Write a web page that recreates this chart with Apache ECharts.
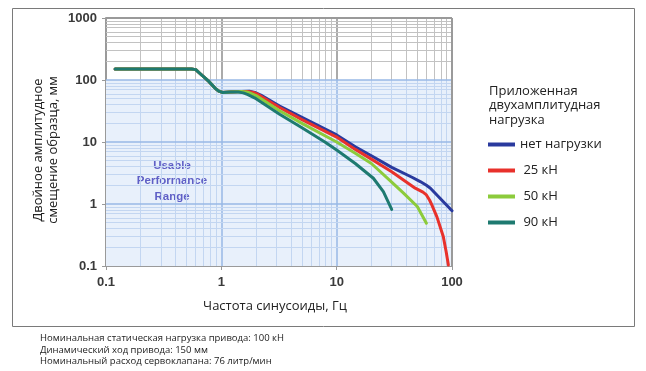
<!DOCTYPE html>
<html>
<head>
<meta charset="utf-8">
<script src="https://cdn.jsdelivr.net/npm/echarts@6/dist/echarts.min.js"></script>
<style>html,body{margin:0;padding:0;background:#fff}#c{width:646px;height:371px}</style>
</head>
<body>
<div id="c"></div>
<script>
// ---- data (frequency Hz, double amplitude mm) ----
const seriesNames = ['нет нагрузки', ' 25 кН', ' 50 кН', ' 90 кН'];
const commonStart = [[0.12,150],[0.55,150],[0.6,147],[0.66,125],[0.78,95],[0.88,74],[0.95,66],[1.02,63],[1.2,64]];
const noLoad = [[1.5,65],[1.75,66],[1.95,63],[2.2,57],[3.2,38],[5,25],[10,13],[14.5,8.4],[20,6.0],[30,3.9],[45,2.7],[53,2.3],[60,2.0],[65,1.8],[100,0.78]];
const load25 = [[1.5,65],[1.7,65],[1.9,63],[2.1,58],[3.2,36],[5,23],[10,12],[14.5,7.6],[20,5.3],[30,3.3],[48,1.8],[56,1.55],[60,1.4],[64,1.15],[67,0.96],[74,0.62],[84,0.30],[89,0.17],[93,0.104]];
const load50 = [[1.5,65],[1.65,64],[1.8,61],[2,56],[3.2,32],[5,20],[10,10],[14.5,6.6],[20,4.5],[30,2.25],[38,1.5],[50,0.91],[60,0.49]];
const load90 = [[1.4,64],[1.55,62],[1.7,58],[2,50],[3.2,28],[5,17],[7.9,10],[10,7.4],[14.5,4.5],[20.8,2.6],[25.4,1.58],[30,0.82]];
const colors = ['#2a3a9e', '#e8312b', '#8ccb3c', '#1e7a70'];
const footnotes = ['Номинальная статическая нагрузка привода: 100 кН','Динамический ход привода: 150 мм','Номинальный расход сервоклапана: 76 литр/мин'];

// ---- grid line positions (decade subdivisions) ----
function subdiv(decStarts){const out=[];decStarts.forEach(d=>{for(let k=2;k<=9;k++)out.push(+(d*k).toPrecision(3));});return out;}
const xMinor = subdiv([0.1,1,10]);
const yMinorLow = subdiv([0.1,1,10]);
const yMinorHigh = subdiv([100]);

const grayMinor='#c2c2c2', grayMajor='#8e8e8e', blueMinor='#c3d6f1', blueMajor='#99b8e6';
const gl=[];
function seg(x1,y1,x2,y2,color,w){gl.push([{coord:[x1,y1],lineStyle:{color:color,width:w,type:'solid'}},{coord:[x2,y2]}]);}
xMinor.forEach(x=>{seg(x,0.1,x,100,blueMinor,1);seg(x,100,x,1000,grayMinor,1);});
[1,10].forEach(x=>{seg(x,0.1,x,100,blueMajor,1.5);seg(x,100,x,1000,grayMajor,1.5);});
yMinorLow.forEach(y=>seg(0.1,y,100,y,blueMinor,1));
yMinorHigh.forEach(y=>seg(0.1,y,100,y,grayMinor,1));
[1,10].forEach(y=>seg(0.1,y,100,y,blueMajor,1.5));
seg(0.1,100,100,100,blueMajor,1.5);
seg(0.1,1000,100,1000,'#9a9a9a',2);
seg(100,0.1,100,1000,'#9a9a9a',2);

const chart = echarts.init(document.getElementById('c'), null, {renderer:'canvas'});
const lineSeries = [noLoad, load25, load50, load90].map((d,i)=>({
  name: seriesNames[i], type:'line', data: commonStart.concat(d),
  symbol:'none', smooth:false, z:5+i,
  lineStyle:{color:colors[i], width:3, join:'round', cap:'round'}, itemStyle:{color:colors[i]}
}));
chart.setOption({
  animation:false,
  backgroundColor:'#fff',
  grid:{left:106, right:194, top:18, bottom:105},
  xAxis:{type:'log', logBase:10, min:0.1, max:100,
    axisLine:{show:true, lineStyle:{color:'#9a9a9a', width:2}},
    axisTick:{show:true, length:4, lineStyle:{color:'#9a9a9a'}},
    axisLabel:{fontFamily:'Liberation Sans', fontWeight:'bold', fontSize:13, color:'#3a3a3a', margin:10,
      formatter:v=>String(+v.toPrecision(3))},
    splitLine:{show:false}, minorTick:{show:false}},
  yAxis:{type:'log', logBase:10, min:0.1, max:1000,
    axisLine:{show:true, lineStyle:{color:'#9a9a9a', width:2}},
    axisTick:{show:true, length:4, lineStyle:{color:'#9a9a9a'}},
    axisLabel:{fontFamily:'Liberation Sans', fontWeight:'bold', fontSize:13, color:'#3a3a3a', margin:9,
      formatter:v=>String(+v.toPrecision(3))},
    splitLine:{show:false}},
  legend:{orient:'vertical', left:483, top:133, itemWidth:27, itemHeight:4, itemGap:13, icon:'rect',
    data:seriesNames, textStyle:{fontFamily:'Open Sans', fontSize:13, color:'#222'}, selectedMode:false},
  graphic:[
    {type:'rect', left:10, top:6, shape:{width:622, height:318}, style:{fill:'none', stroke:'#7a7a7a', lineWidth:1}, silent:true, z:-1},
    {type:'text', left:489, top:84, style:{text:'Приложенная\nдвухамплитудная\nнагрузка', fontFamily:'Open Sans', fontSize:13, lineHeight:14.5, fill:'#222'}},
    {type:'text', x:46, y:150, rotation:Math.PI/2, style:{text:'Двойное амплитудное\nсмещение образца, мм', fontFamily:'Open Sans', fontSize:13, lineHeight:15, fill:'#222', align:'center', verticalAlign:'middle'}},
    {type:'text', x:275, y:306, style:{text:'Частота синусоиды, Гц', fontFamily:'Open Sans', fontSize:13, fill:'#222', align:'center', verticalAlign:'middle'}},
    {type:'text', x:172, y:181, z:3, style:{text:'Usable\nPerformance\nRange', fontFamily:'Liberation Sans', fontWeight:'bold', fontSize:11.5, lineHeight:15.5, fill:'#5f5fc6', align:'center', verticalAlign:'middle'}},
    {type:'text', left:40, top:333, style:{text:footnotes.join('\n'), fontFamily:'Open Sans', fontSize:9.5, lineHeight:11.5, fill:'#222'}}
  ],
  series:[
    {type:'line', data:[], silent:true, z:1,
      markArea:{silent:true, itemStyle:{color:'#e8f0fb'}, data:[[{coord:[0.1,0.1]},{coord:[100,100]}]]},
      markLine:{silent:true, symbol:['none','none'], label:{show:false}, emphasis:{disabled:true}, data:gl}}
  ].concat(lineSeries)
});
</script>
</body>
</html>
